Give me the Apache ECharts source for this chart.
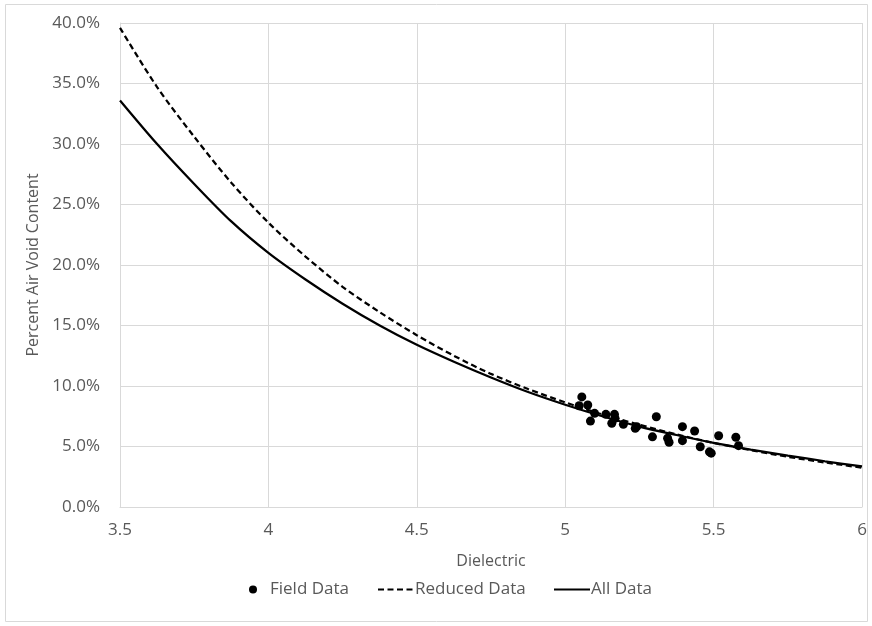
<!DOCTYPE html>
<html>
<head>
<meta charset="utf-8">
<script src="https://cdn.jsdelivr.net/npm/echarts@6/dist/echarts.min.js"></script>
<style>
  html, body { margin: 0; padding: 0; background: #fff; }
  #chart { width: 872px; height: 626px; }
</style>
</head>
<body>
<div id="chart"></div>
<script>
// field measurements: dielectric / percent air voids
const fieldX = [5.056, 5.047, 5.076, 5.099, 5.085, 5.137, 5.166, 5.168, 5.157, 5.196,
  5.236, 5.241, 5.294, 5.307, 5.345, 5.35, 5.395, 5.395, 5.436, 5.455, 5.486, 5.492,
  5.517, 5.575, 5.584];
const fieldY = [9.1, 8.37, 8.43, 7.74, 7.1, 7.66, 7.66, 7.33, 6.92, 6.83,
  6.5, 6.64, 5.8, 7.46, 5.68, 5.35, 6.64, 5.48, 6.28, 4.98, 4.56, 4.45,
  5.89, 5.76, 5.07];

// fitted curves
const curveX = [3.5, 3.625, 3.75, 3.875, 4, 4.125, 4.25, 4.375, 4.5, 4.625, 4.75,
  4.875, 5, 5.125, 5.25, 5.375, 5.5, 5.625, 5.75, 5.875, 6];
const reducedY = [39.6, 34.7, 30.6, 26.8, 23.5, 20.7, 18.2, 16.1, 14.2, 12.5, 11.0,
  9.75, 8.65, 7.65, 6.8, 6.0, 5.3, 4.7, 4.15, 3.68, 3.25];
const allY = [33.6, 30.0, 26.7, 23.6, 21.0, 18.8, 16.8, 15.0, 13.4, 12.0, 10.7,
  9.5, 8.45, 7.5, 6.65, 5.95, 5.3, 4.75, 4.25, 3.78, 3.35];

const xTicks = { min: 3.5, max: 6, step: 0.5 };
const yTicks = { min: 0, max: 40, step: 5 };

const zip = (xs, ys) => xs.map((x, i) => [x, ys[i]]);

const textColor = '#595959';
const gridColor = '#d9d9d9';
const font = 'Open Sans';

const chart = echarts.init(document.getElementById('chart'));
const legendText = { color: textColor, fontSize: 17, fontFamily: font };
// hide the symbol drawn on line legend icons
const noSymbol = { color: 'rgba(0,0,0,0)', borderWidth: 0 };

chart.setOption({
  animation: false,
  graphic: [
    {
      type: 'rect',
      shape: { x: 5.5, y: 4.5, width: 862, height: 617 },
      style: { fill: 'none', stroke: gridColor, lineWidth: 1 },
      silent: true,
    },
  ],
  grid: { left: 120, right: 10, top: 23, bottom: 119 },
  legend: [
    {
      left: 244, top: 576, itemWidth: 8, itemHeight: 8,
      textStyle: Object.assign({ padding: [0, 0, 0, 8] }, legendText),
      data: [{ name: 'Field Data', icon: 'circle', itemStyle: { color: '#000' } }],
    },
    {
      left: 372, top: 576, itemWidth: 36, itemHeight: 14,
      textStyle: Object.assign({ padding: [0, 0, 0, -4] }, legendText),
      data: [{ name: 'Reduced Data', itemStyle: noSymbol }],
    },
    {
      left: 548, top: 576, itemWidth: 36, itemHeight: 14,
      textStyle: Object.assign({ padding: [0, 0, 0, -4] }, legendText),
      data: [{ name: 'All Data', itemStyle: noSymbol }],
    },
  ],
  xAxis: {
    type: 'value',
    min: xTicks.min,
    max: xTicks.max,
    interval: xTicks.step,
    name: 'Dielectric',
    nameLocation: 'middle',
    nameGap: 46,
    nameTextStyle: { color: textColor, fontSize: 16, fontFamily: font },
    axisLine: { lineStyle: { color: gridColor } },
    axisTick: { show: false },
    axisLabel: { color: textColor, fontSize: 17, fontFamily: font, margin: 15 },
    splitLine: { show: true, lineStyle: { color: gridColor } },
  },
  yAxis: {
    type: 'value',
    min: yTicks.min,
    max: yTicks.max,
    interval: yTicks.step,
    name: 'Percent Air Void Content',
    nameLocation: 'middle',
    nameGap: 76,
    nameTextStyle: { color: textColor, fontSize: 16, fontFamily: font },
    axisLine: { show: true, lineStyle: { color: gridColor } },
    axisTick: { show: false },
    axisLabel: {
      color: textColor, fontSize: 17, fontFamily: font, margin: 20,
      formatter: v => v.toFixed(1) + '%',
    },
    splitLine: { show: true, lineStyle: { color: gridColor } },
  },
  series: [
    {
      name: 'Field Data',
      type: 'scatter',
      symbolSize: 9,
      itemStyle: { color: '#000', opacity: 1 },
      data: zip(fieldX, fieldY),
      z: 3,
    },
    {
      name: 'Reduced Data',
      type: 'line',
      smooth: 0.3,
      symbol: 'none',
      lineStyle: { color: '#000', width: 2.25, type: [6, 3.5] },
      itemStyle: { color: '#000' },
      data: zip(curveX, reducedY),
    },
    {
      name: 'All Data',
      type: 'line',
      smooth: 0.3,
      symbol: 'none',
      lineStyle: { color: '#000', width: 2.25 },
      itemStyle: { color: '#000' },
      data: zip(curveX, allY),
    },
  ],
});
</script>
</body>
</html>
